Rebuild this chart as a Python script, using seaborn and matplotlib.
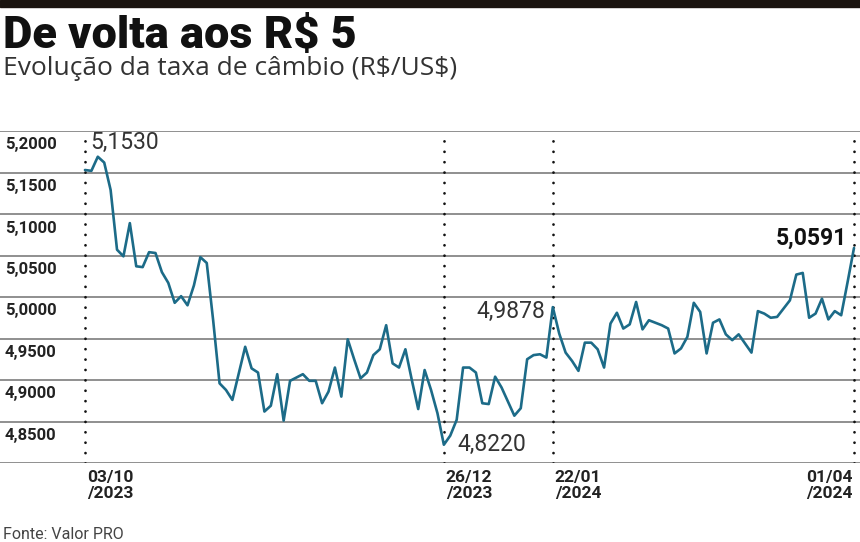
import numpy as np
import pandas as pd
import matplotlib
matplotlib.use("Agg")
import matplotlib.pyplot as plt
import seaborn as sns
from matplotlib.transforms import blended_transform_factory

# ---------------- data ----------------
rates = [
    5.1530, 5.152, 5.169, 5.162, 5.129, 5.057, 5.049, 5.089, 5.037, 5.036,
    5.054, 5.053, 5.030, 5.017, 4.993, 5.001, 4.990, 5.014, 5.048, 5.041,
    4.972, 4.896, 4.888, 4.876, 4.908, 4.940, 4.914, 4.909, 4.862, 4.869,
    4.907, 4.851, 4.899, 4.903, 4.907, 4.899, 4.899, 4.872, 4.886, 4.915,
    4.880, 4.949, 4.925, 4.902, 4.909, 4.930, 4.937, 4.966, 4.920, 4.915,
    4.937, 4.900, 4.865, 4.912, 4.888, 4.860, 4.8220, 4.833, 4.852, 4.915,
    4.915, 4.909, 4.872, 4.871, 4.904, 4.891, 4.874, 4.857, 4.866, 4.925,
    4.930, 4.931, 4.927, 4.9878, 4.956, 4.933, 4.923, 4.911, 4.945, 4.945,
    4.937, 4.915, 4.968, 4.981, 4.962, 4.967, 4.994, 4.961, 4.972, 4.969,
    4.966, 4.962, 4.932, 4.938, 4.952, 4.993, 4.982, 4.932, 4.969, 4.973,
    4.955, 4.948, 4.955, 4.944, 4.933, 4.983, 4.980, 4.975, 4.976, 4.986,
    4.996, 5.027, 5.029, 4.975, 4.980, 4.998, 4.973, 4.983, 4.978, 5.018,
    5.0591,
]
date_ticks = [0, 56, 73, 120]
date_labels = ["03/10\n/2023", "26/12\n/2023", "22/01\n/2024", "01/04\n/2024"]
y_levels = [5.20, 5.15, 5.10, 5.05, 5.00, 4.95, 4.90, 4.85, 4.80]
y_labels = ["5,2000", "5,1500", "5,1000", "5,0500", "5,0000", "4,9500", "4,9000", "4,8500"]
callouts = [  # (index, text, bold)
    (0, "5,1530", False),
    (56, "4,8220", False),
    (73, "4,9878", False),
    (120, "5,0591", True),
]

title = "De volta aos R\\$ 5"
subtitle = "Evolução da taxa de câmbio (R\\$/US\\$)"
source = "Fonte: Valor PRO"

df = pd.DataFrame({"i": np.arange(len(rates)), "rate": rates})

# ---------------- style ----------------
sns.set_style("white")
plt.rcParams["font.family"] = ["Roboto", "DejaVu Sans"]

W, H = 860, 542
fig = plt.figure(figsize=(W / 100, H / 100), dpi=100)

# top black band
fig.patches.append(plt.Rectangle((0, 1 - 7 / H), 1, 7 / H, transform=fig.transFigure,
                                 color="#1a1410", zorder=0))

ax_top, ax_bot = 131, 463
ax = fig.add_axes([0, 1 - ax_bot / H, 1, (ax_bot - ax_top) / H])
line_color = "#1c6b88"

sns.lineplot(data=df, x="i", y="rate", ax=ax, color=line_color, linewidth=1.9,
             zorder=4)

px_per_i = 6.41
left_pad = 85 / px_per_i
right_pad = (W - 854) / px_per_i
ax.set_xlim(-left_pad, len(rates) - 1 + right_pad)
ax.set_ylim(4.80, 5.20)
for s in ax.spines.values():
    s.set_visible(False)
ax.set_xticks([])
ax.set_yticks([])
ax.set_xlabel("")
ax.set_ylabel("")

for lv in y_levels:
    ax.axhline(lv, color="#7d7d7d", linewidth=1.2, zorder=1)

# dotted verticals
for t in date_ticks:
    ax.plot([t, t], [4.80, 5.20], color="#111111", linewidth=2.0,
            linestyle=(0, (0.01, 3.73)), dash_capstyle="round", zorder=3)

# y labels, just below their gridlines
btf = blended_transform_factory(fig.transFigure, ax.transData)
for lv, lab in zip(y_levels, y_labels):
    ax.annotate(lab, xy=(5 / W, lv), xycoords=btf, xytext=(0, -14),
                textcoords="offset pixels", ha="left", va="center",
                fontsize=12, fontweight="bold", color="#222222")

# callouts
offsets = {0: (5, 28, "left"), 56: (14, 0, "left"), 73: (-7, -4, "right"),
           120: (-7, 10, "right")}
for idx, txt, bold in callouts:
    dx, dy, ha = offsets[idx]
    ax.annotate(txt, xy=(idx, rates[idx]), xytext=(dx, dy), textcoords="offset pixels",
                ha=ha, va="center", fontsize=16.5,
                fontweight="bold" if bold else "normal",
                color="#111111" if bold else "#333333", zorder=6)

# date labels
for t, lab in zip(date_ticks, date_labels):
    ha = "right" if t == date_ticks[-1] else "left"
    dx = -1 if ha == "right" else 2
    ax.annotate(lab, xy=(t, 4.80), xytext=(dx, -7), textcoords="offset pixels",
                ha=ha, va="top", fontsize=12.5, fontweight="bold", color="#222222",
                linespacing=1.1, multialignment=ha)

# titles
fig.text(3 / W, 1 - 48 / H, title, fontsize=32.5, fontweight="black", color="#111111",
         ha="left", va="baseline")
fig.text(3 / W, 1 - 75.5 / H, subtitle, fontsize=19, fontweight="normal", color="#333333",
         ha="left", va="baseline", family=["Open Sans", "DejaVu Sans"])
fig.text(3 / W, 1 - 539 / H, source, fontsize=11.5, fontweight="normal", color="#444444",
         ha="left", va="baseline")

fig.savefig("out.png", dpi=100)
